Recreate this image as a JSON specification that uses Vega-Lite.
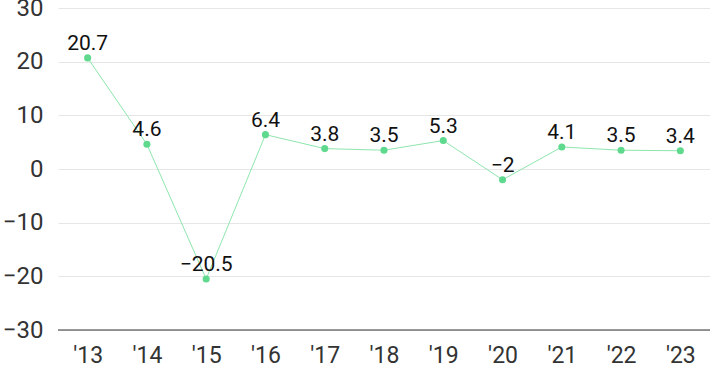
{
  "$schema": "https://vega.github.io/schema/vega-lite/v6.json",
  "width": 652,
  "height": 322,
  "autosize": {"type": "none"},
  "padding": {"left": 58, "top": 8, "right": 0, "bottom": 41},
  "config": {"view": {"stroke": null}, "font": "Roboto"},
  "data": {"values": [
    {"year": "'13", "v": 20.7},
    {"year": "'14", "v": 4.6},
    {"year": "'15", "v": -20.5},
    {"year": "'16", "v": 6.4},
    {"year": "'17", "v": 3.8},
    {"year": "'18", "v": 3.5},
    {"year": "'19", "v": 5.3},
    {"year": "'20", "v": -2},
    {"year": "'21", "v": 4.1},
    {"year": "'22", "v": 3.5},
    {"year": "'23", "v": 3.4}
  ]},
  "encoding": {
    "x": {"field": "year", "type": "ordinal", "sort": null,
      "scale": {"type": "point", "padding": 0.5},
      "axis": {"title": null, "labelAngle": 0, "ticks": false, "domain": false, "grid": false,
        "labelFontSize": 23, "labelColor": "#333333", "labelPadding": 14, "labelFont": "Roboto"}},
    "y": {"field": "v", "type": "quantitative",
      "scale": {"domain": [-30, 30], "nice": false},
      "axis": {"title": null, "values": [-30, -20, -10, 0, 10, 20, 30], "ticks": false, "domain": false,
        "gridColor": "#e6e6e6", "labelFontSize": 24, "labelColor": "#333333", "labelPadding": 15, "labelFont": "Roboto"}}
  },
  "layer": [
    {"mark": {"type": "rule", "color": "#333333", "strokeWidth": 1}, "data": {"values": [{"y": -30}]}, "encoding": {"y": {"field": "y", "type": "quantitative"}, "x": null}},
    {"mark": {"type": "line", "color": "#8ee6ad", "strokeWidth": 1}},
    {"mark": {"type": "point", "filled": true, "opacity": 1, "size": 50, "color": "#5fd98d"}},
    {"mark": {"type": "text", "dy": -8, "baseline": "alphabetic", "fontSize": 21, "color": "#111111", "font": "Roboto"},
      "encoding": {"text": {"field": "v", "type": "quantitative", "format": ""}}}
  ]
}
